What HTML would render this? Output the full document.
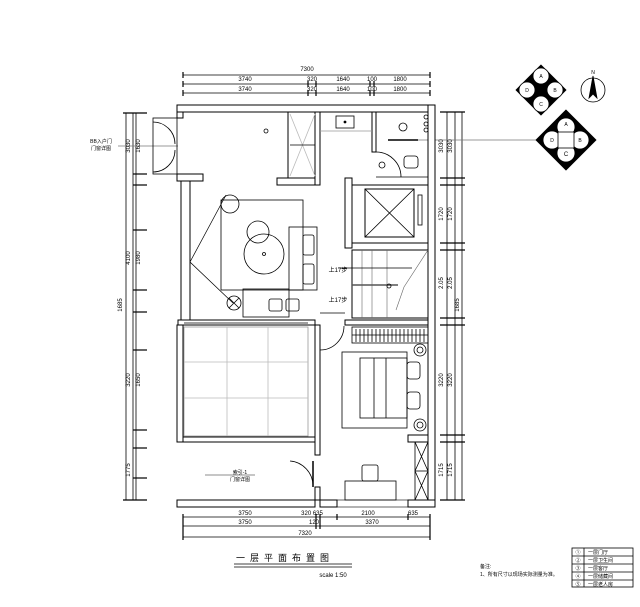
<!DOCTYPE html>
<html><head><meta charset="utf-8"><style>
html,body{margin:0;padding:0;background:#fff;}
svg{display:block;font-family:"Liberation Sans","Noto Sans CJK SC",sans-serif;}
</style></head><body>
<svg width="640" height="607" viewBox="0 0 640 607" xmlns="http://www.w3.org/2000/svg">
<rect width="640" height="607" fill="#fff"/>
<g stroke="#000" stroke-width="0.8" fill="none">
<line x1="183" y1="75" x2="430" y2="75"/><line x1="183" y1="84" x2="430" y2="84"/><line x1="183" y1="93" x2="430" y2="93"/>
<g stroke-width="1.2"><line x1="183" y1="72" x2="183" y2="78"/><line x1="430" y1="72" x2="430" y2="78"/>
<line x1="183" y1="81" x2="183" y2="87"/><line x1="308" y1="81" x2="308" y2="87"/><line x1="316" y1="81" x2="316" y2="87"/><line x1="370" y1="81" x2="370" y2="87"/><line x1="374" y1="81" x2="374" y2="87"/><line x1="430" y1="81" x2="430" y2="87"/>
<line x1="183" y1="90" x2="183" y2="96"/><line x1="308" y1="90" x2="308" y2="96"/><line x1="316" y1="90" x2="316" y2="96"/><line x1="370" y1="90" x2="370" y2="96"/><line x1="374" y1="90" x2="374" y2="96"/><line x1="430" y1="90" x2="430" y2="96"/></g>
<line x1="183" y1="517" x2="430" y2="517"/><line x1="183" y1="526" x2="430" y2="526"/><line x1="183" y1="537" x2="430" y2="537"/>
<g stroke-width="1.2"><line x1="183" y1="514" x2="183" y2="540"/><line x1="430" y1="514" x2="430" y2="540"/><line x1="316" y1="514" x2="316" y2="529"/><line x1="320" y1="514" x2="320" y2="529"/><line x1="337" y1="514" x2="337" y2="520"/><line x1="408" y1="514" x2="408" y2="520"/></g>
<line x1="126" y1="113" x2="126" y2="500"/><line x1="133" y1="113" x2="133" y2="500"/><line x1="136" y1="113" x2="136" y2="500"/>
<g stroke-width="1.2"><line x1="123" y1="113" x2="147" y2="113"/><line x1="123" y1="500" x2="147" y2="500"/><line x1="133" y1="174" x2="147" y2="174"/><line x1="133" y1="185" x2="147" y2="185"/><line x1="133" y1="230" x2="147" y2="230"/><line x1="133" y1="290" x2="147" y2="290"/><line x1="133" y1="312" x2="147" y2="312"/><line x1="133" y1="350" x2="147" y2="350"/><line x1="133" y1="430" x2="147" y2="430"/><line x1="133" y1="448" x2="147" y2="448"/><line x1="133" y1="478" x2="147" y2="478"/></g>
<line x1="447" y1="112" x2="447" y2="500"/><line x1="455" y1="112" x2="455" y2="500"/><line x1="462" y1="112" x2="462" y2="500"/>
<g stroke-width="1.2"><line x1="440" y1="112" x2="465" y2="112"/><line x1="440" y1="178" x2="465" y2="178"/><line x1="440" y1="185" x2="465" y2="185"/><line x1="440" y1="243" x2="465" y2="243"/><line x1="440" y1="250" x2="465" y2="250"/><line x1="440" y1="318" x2="465" y2="318"/><line x1="440" y1="325" x2="465" y2="325"/><line x1="440" y1="435" x2="465" y2="435"/><line x1="440" y1="442" x2="465" y2="442"/><line x1="440" y1="500" x2="465" y2="500"/></g>
<line x1="388" y1="140" x2="540" y2="140" stroke="#777"/>
<line x1="118" y1="146" x2="178" y2="146" stroke="#777"/>
</g>
<g stroke="#000" stroke-width="1" fill="#fff">
<rect x="177" y="105" width="258" height="7"/>
<rect x="428" y="105" width="7" height="402"/>
<rect x="177" y="500" width="138" height="7"/>
<rect x="320" y="500" width="17" height="7"/>
<rect x="337" y="500" width="71" height="7" fill="none" stroke-width="0.6"/>
<rect x="408" y="500" width="27" height="7"/>
<rect x="177" y="112" width="6" height="6"/>
<rect x="177" y="174" width="26" height="7"/>
<rect x="181" y="181" width="9" height="144"/>
<rect x="277" y="178" width="40" height="7"/>
<rect x="288" y="112" width="29" height="66"/>
<rect x="315" y="112" width="5" height="73"/>
<rect x="345" y="178" width="7" height="70"/>
<rect x="352" y="185" width="76" height="58" fill="none"/>
<rect x="365" y="189" width="49" height="48"/>
<rect x="352" y="250" width="76" height="68" fill="none"/>
<rect x="178" y="320" width="137" height="5"/>
<rect x="177" y="325" width="6" height="117"/>
<rect x="183" y="437" width="132" height="5"/>
<rect x="315" y="325" width="5" height="130"/>
<rect x="315" y="487" width="5" height="13"/>
<rect x="345" y="320" width="83" height="5"/>
<rect x="408" y="435" width="20" height="7"/>
<rect x="372" y="112" width="4" height="40"/>
</g>
<g stroke="#000" stroke-width="0.8" fill="none">
<line x1="184" y1="323" x2="308" y2="323"/><line x1="320" y1="313" x2="345" y2="313"/>
<rect x="153" y="118" width="24" height="56"/>
<path d="M153 122 A22 22 0 0 1 175 144 M153 172 A22 22 0 0 0 175 150"/>
<path d="M290 114 L315 176 M315 114 L290 176" stroke="#bbb"/>
<line x1="290" y1="145" x2="315" y2="145"/>
<rect x="336" y="116" width="18" height="12"/><circle cx="345" cy="122" r="1" fill="#000"/>
<line x1="320" y1="131" x2="372" y2="131" stroke="#999"/>
<path d="M376 152 A25 25 0 0 1 401 177"/><line x1="376" y1="177" x2="428" y2="177"/>
<rect x="404" y="156" width="14" height="12" rx="3"/>
<circle cx="382" cy="165" r="3"/><circle cx="403" cy="127" r="4"/>
<line x1="388" y1="140" x2="418" y2="140" stroke-width="1.5"/>
<circle cx="426" cy="117" r="2"/><circle cx="426" cy="124" r="2"/><circle cx="426" cy="130" r="2"/>
<path d="M365 189 L414 237 M414 189 L365 237"/>
<rect x="418" y="195" width="4" height="30"/>
<g stroke="#666" stroke-width="0.6"><line x1="362" y1="250" x2="362" y2="318"/><line x1="372" y1="250" x2="372" y2="318"/><line x1="387" y1="250" x2="387" y2="318"/>
<path d="M428 250 L404 287 L396 310"/></g>
<line x1="338" y1="268" x2="412" y2="268"/>
<line x1="352" y1="285" x2="398" y2="285" stroke-width="1.5" stroke="#555"/>
<circle cx="389" cy="286" r="2"/>
<rect x="221" y="200" width="82" height="90"/>
<path d="M226 195 L190 262 L233 303" stroke-width="0.7"/>
<circle cx="230" cy="204" r="9"/><circle cx="258" cy="232" r="11"/><circle cx="264" cy="254" r="20"/><circle cx="264" cy="254" r="1.5"/>
<rect x="289" y="227" width="28" height="63"/>
<rect x="303" y="235" width="11" height="20" rx="2"/><rect x="303" y="264" width="11" height="20" rx="2"/>
<rect x="243" y="289" width="46" height="28"/>
<rect x="269" y="299" width="13" height="12" rx="2"/><rect x="286" y="299" width="13" height="12" rx="2"/>
<circle cx="234" cy="303" r="7"/><path d="M229 298 L239 308 M239 298 L229 308"/>
<circle cx="266" cy="131" r="2"/>
<rect x="184" y="327" width="124" height="109" stroke="#999"/>
<path d="M227 327 V436 M268 327 V436 M184 362 H308 M184 398 H308" stroke="#bbb"/>
<path d="M313 486 A25 25 0 0 0 290 461"/>
<line x1="313" y1="461" x2="313" y2="487" stroke-width="1.5"/>
<path d="M320 350 A24 24 0 0 0 344 326"/>
<line x1="205" y1="475" x2="255" y2="475" stroke="#666"/>
<rect x="352" y="327" width="76" height="16"/>
<path d="M356 329 V342 M360 329 V342 M364 329 V342 M368 329 V342 M372 329 V342 M376 329 V342 M380 329 V342 M384 329 V342 M388 329 V342 M392 329 V342 M396 329 V342 M400 329 V342 M404 329 V342 M408 329 V342 M412 329 V342 M416 329 V342 M420 329 V342 M424 329 V342"/>
<line x1="352" y1="335" x2="428" y2="335"/>
<rect x="342" y="352" width="65" height="76"/>
<rect x="360" y="358" width="47" height="60"/>
<line x1="374" y1="358" x2="374" y2="418"/><line x1="386" y1="358" x2="386" y2="418"/>
<rect x="407" y="362" width="13" height="17" rx="3"/><rect x="407" y="392" width="13" height="17" rx="3"/>
<circle cx="420" cy="350" r="6"/><circle cx="420" cy="350" r="3"/>
<circle cx="420" cy="425" r="6"/><circle cx="420" cy="425" r="3"/>
<rect x="415" y="442" width="13" height="58"/>
<path d="M415 442 L428 471 M428 442 L415 471 M415 471 L428 500 M428 471 L415 500"/>
<line x1="415" y1="471" x2="428" y2="471"/>
<rect x="345" y="481" width="51" height="19"/>
<rect x="362" y="465" width="16" height="16" rx="2"/>
<polygon points="541,65 566,90 541,115 516,90" fill="#000"/>
<circle cx="541" cy="76" r="8" fill="#fff"/><circle cx="541" cy="104" r="8" fill="#fff"/>
<circle cx="527" cy="90" r="8" fill="#fff"/><circle cx="555" cy="90" r="8" fill="#fff"/>
<circle cx="593" cy="90" r="12"/><polygon points="593,76 589,98 593,94 597,98" fill="#000"/>
<polygon points="566,110 596,140 566,170 536,140" fill="#000"/>
<circle cx="566" cy="127" r="9" fill="#fff"/><circle cx="566" cy="153" r="9" fill="#fff"/>
<circle cx="552" cy="140" r="9" fill="#fff"/><circle cx="580" cy="140" r="9" fill="#fff"/>
<rect x="558" y="132" width="16" height="16" fill="#fff"/>
<line x1="234" y1="564" x2="352" y2="564"/><line x1="234" y1="567" x2="352" y2="567"/>
<rect x="572" y="548" width="61" height="39"/>
<path d="M572 556 H633 M572 564 H633 M572 572 H633 M572 580 H633 M584 548 V587"/>
</g>
<g font-size="6" fill="#000" text-anchor="middle">
<text x="307" y="71">7300</text>
<text x="245" y="81">3740</text><text x="312" y="81">320</text><text x="343" y="81">1640</text><text x="372" y="81">100</text><text x="400" y="81">1800</text>
<text x="245" y="91">3740</text><text x="312" y="91">320</text><text x="343" y="91">1640</text><text x="372" y="91">100</text><text x="400" y="91">1800</text>
<text x="245" y="515">3750</text><text x="312" y="515">320 635</text><text x="368" y="515">2100</text><text x="413" y="515">635</text>
<text x="245" y="524">3750</text><text x="314" y="524">120</text><text x="372" y="524">3370</text>
<text x="305" y="535">7320</text>
<text x="130" y="146" transform="rotate(-90 130 146)">3030</text>
<text x="140" y="146" transform="rotate(-90 140 146)">1630</text>
<text x="130" y="258" transform="rotate(-90 130 258)">4100</text>
<text x="140" y="258" transform="rotate(-90 140 258)">1980</text>
<text x="130" y="380" transform="rotate(-90 130 380)">3220</text>
<text x="140" y="380" transform="rotate(-90 140 380)">1650</text>
<text x="130" y="470" transform="rotate(-90 130 470)">1775</text>
<text x="122" y="305" transform="rotate(-90 122 305)">1685</text>
<text x="443" y="146" transform="rotate(-90 443 146)">3030</text>
<text x="452" y="146" transform="rotate(-90 452 146)">3030</text>
<text x="443" y="214" transform="rotate(-90 443 214)">1720</text>
<text x="452" y="214" transform="rotate(-90 452 214)">1720</text>
<text x="443" y="283" transform="rotate(-90 443 283)">2.05</text>
<text x="452" y="283" transform="rotate(-90 452 283)">2.05</text>
<text x="443" y="380" transform="rotate(-90 443 380)">3220</text>
<text x="452" y="380" transform="rotate(-90 452 380)">3220</text>
<text x="443" y="470" transform="rotate(-90 443 470)">1715</text>
<text x="452" y="470" transform="rotate(-90 452 470)">1715</text>
<text x="459" y="305" transform="rotate(-90 459 305)">1685</text>
<text x="338" y="272">上17步</text>
<text x="338" y="302">上17步</text>
<text x="240" y="474" font-size="5">索引-1</text>
<text x="240" y="481" font-size="5">门窗详图</text>
<text x="101" y="143" font-size="5">BB入户门</text>
<text x="101" y="150" font-size="5">门窗详图</text>
<text x="541" y="78" font-size="5">A</text><text x="555" y="92" font-size="5">B</text><text x="541" y="106" font-size="5">C</text><text x="527" y="92" font-size="5">D</text>
<text x="593" y="74" font-size="5">N</text>
<text x="566" y="126" font-size="5">A</text><text x="580" y="142" font-size="5">B</text><text x="566" y="156" font-size="6">C</text><text x="552" y="142" font-size="5">D</text>
<text x="285" y="561" font-size="9" letter-spacing="5">一层平面布置图</text>
<text x="333" y="577">scale 1:50</text>
<text x="578" y="554" font-size="5">①</text><text x="578" y="562" font-size="5">②</text><text x="578" y="570" font-size="5">③</text><text x="578" y="578" font-size="5">④</text><text x="578" y="586" font-size="5">⑤</text>
</g>
<g font-size="5" fill="#000">
<text x="588" y="554">一层门厅</text><text x="588" y="562">一层卫生间</text><text x="588" y="570">一层客厅</text><text x="588" y="578">一层储藏间</text><text x="588" y="586">一层老人房</text>
<text x="480" y="568">备注:</text>
<text x="480" y="576">1、所有尺寸以现场实际测量为准。</text>
</g>
</svg>
</body></html>
